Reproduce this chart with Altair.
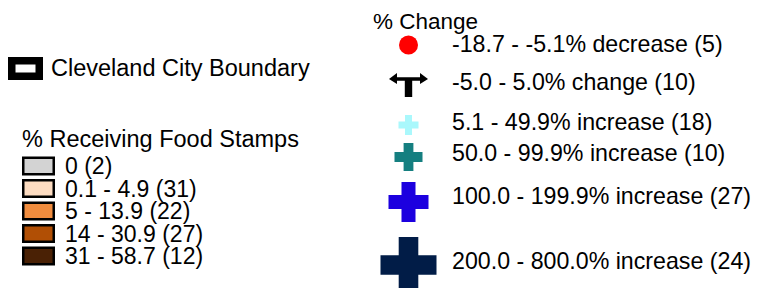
import altair as alt
import pandas as pd

# ---------------- content ----------------
boundary_labels = ["Cleveland City Boundary"]

food_title = "% Receiving Food Stamps"
food_ranges = ["0", "0.1 - 4.9", "5 - 13.9", "14 - 30.9", "31 - 58.7"]
food_counts = [2, 31, 22, 27, 12]

change_title = "% Change"
change_ranges = [
    "-18.7 - -5.1% decrease",
    "-5.0 - 5.0% change",
    "5.1 - 49.9% increase",
    "50.0 - 99.9% increase",
    "100.0 - 199.9% increase",
    "200.0 - 800.0% increase",
]
change_counts = [5, 10, 18, 10, 27, 24]

# ---------------- styles ----------------
food_colors = ["#d3d3d3", "#fddcc1", "#f08c3e", "#b14f05", "#4a2105"]
change_colors = ["#ff0000", "#000000", "#aaf8fc", "#157f80", "#1c00df", "#011c47"]

ARROW = ("M-1,-0.31L-0.59,-0.615L-0.59,-0.4L0.59,-0.4L0.59,-0.615L1,-0.31"
         "L0.59,-0.05L0.59,-0.22L0.19,-0.22L0.19,0.615L-0.19,0.615L-0.19,-0.22"
         "L-0.59,-0.22L-0.59,-0.05Z")
CROSS = ("M-1,-0.35L-0.35,-0.35L-0.35,-1L0.35,-1L0.35,-0.35L1,-0.35L1,0.35"
         "L0.35,0.35L0.35,1L-0.35,1L-0.35,0.35L-1,0.35Z")
SWATCH = "M-1,-0.541L1,-0.541L1,0.541L-1,0.541Z"
BOX = "M-1,-0.564L1,-0.564L1,0.564L-1,0.564Z"
change_shapes = ["circle", ARROW, CROSS, CROSS, CROSS, CROSS]
change_sizes = [361, 1521, 400, 784, 1600, 3136]

FONT = "Liberation Sans"
FS = 23.5
FS_TITLE2 = 22.5
FS_ITEM = 23
FS_CHANGE = 23.2

# ---------------- layout (row positions, px) ----------------
boundary_row_y = [60.5]
food_row_y = [158, 180.5, 203, 225.5, 248]
change_symbol_y = [37, 77, 117, 149, 194, 257]
change_text_y = [44, 82, 122, 153, 196, 261]

W, H = 745, 280
ident = alt.Scale(domain=[0, H], range=[0, H], zero=False, nice=False)

food_labels = [f"{r} ({c})" for r, c in zip(food_ranges, food_counts)]
change_labels = [f"{r} ({c})" for r, c in zip(change_ranges, change_counts)]

boundary_df = pd.DataFrame({"label": boundary_labels, "yc": boundary_row_y})
food_df = pd.DataFrame({"label": food_labels, "yc": food_row_y})
change_df = pd.DataFrame({"label": change_labels, "yc": change_symbol_y, "ty": change_text_y})

# boundary entry
boundary_sym = alt.Chart(boundary_df).mark_point(
    shape=BOX, size=756, filled=True, fill="white", stroke="black",
    strokeWidth=7.5, opacity=1, strokeJoin="miter"
).encode(x=alt.value(17.5), y=alt.Y("yc:Q", scale=ident, axis=None))

boundary_txt = alt.Chart(boundary_df).mark_text(
    align="left", baseline="alphabetic", dy=7.5, font=FONT, fontSize=FS, color="black"
).encode(x=alt.value(43), y=alt.Y("yc:Q", scale=ident, axis=None), text="label:N")

# food stamps legend
food_ttl = alt.Chart(boundary_df).mark_text(
    align="left", baseline="alphabetic", font=FONT, fontSize=FS, color="black"
).encode(x=alt.value(14), y=alt.value(139), text=alt.value(food_title))

food_sym = alt.Chart(food_df).mark_point(
    shape=SWATCH, size=930, filled=True, stroke="black", strokeWidth=2.5,
    opacity=1, strokeJoin="miter"
).encode(
    x=alt.value(30.5),
    y=alt.Y("yc:Q", scale=ident, axis=None),
    fill=alt.Fill("label:N", scale=alt.Scale(domain=food_labels, range=food_colors), legend=None),
)

food_txt = alt.Chart(food_df).mark_text(
    align="left", baseline="alphabetic", dy=8, font=FONT, fontSize=FS_ITEM, color="black"
).encode(x=alt.value(57), y=alt.Y("yc:Q", scale=ident, axis=None), text="label:N")

# % change legend
change_ttl = alt.Chart(boundary_df).mark_text(
    align="left", baseline="alphabetic", font=FONT, fontSize=FS_TITLE2, color="black"
).encode(x=alt.value(365), y=alt.value(20.5), text=alt.value(change_title))

change_sym = alt.Chart(change_df).mark_point(filled=True, opacity=1).encode(
    x=alt.value(400.5),
    y=alt.Y("yc:Q", scale=ident, axis=None),
    fill=alt.Fill("label:N", scale=alt.Scale(domain=change_labels, range=change_colors), legend=None),
    shape=alt.Shape("label:N", scale=alt.Scale(domain=change_labels, range=change_shapes), legend=None),
    size=alt.Size("label:N", scale=alt.Scale(type="ordinal", domain=change_labels, range=change_sizes), legend=None),
)

change_txt = alt.Chart(change_df).mark_text(
    align="left", baseline="alphabetic", font=FONT, fontSize=FS_CHANGE, color="black"
).encode(x=alt.value(444), y=alt.Y("ty:Q", scale=ident, axis=None), text="label:N")

chart = alt.layer(
    boundary_sym, boundary_txt, food_ttl, food_sym, food_txt,
    change_ttl, change_sym, change_txt
).resolve_scale(
    fill="independent", shape="independent", size="independent"
).properties(
    width=W, height=H, padding=0, autosize="none", background="white"
).configure_view(stroke=None)

chart.save("out.html", embed_options={"renderer": "svg", "actions": False})
